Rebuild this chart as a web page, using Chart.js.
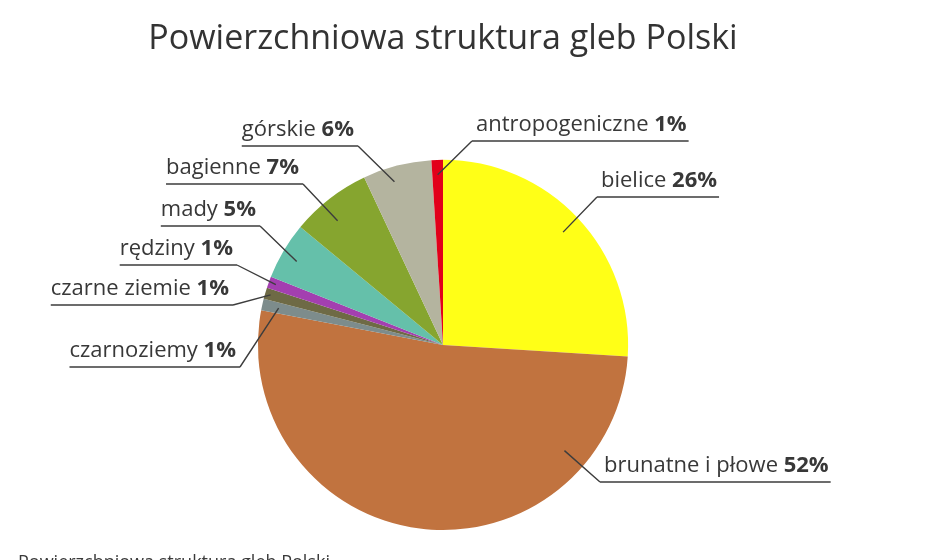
<!DOCTYPE html>
<html>
<head>
<meta charset="utf-8">
<script src="https://cdn.jsdelivr.net/npm/chart.js@4.4.1/dist/chart.umd.min.js"></script>
<style>
  html, body { margin: 0; padding: 0; background: #fff; }
  #wrap { width: 952px; height: 560px; }
</style>
</head>
<body>
<div id="wrap"><canvas id="soilChart" width="952" height="560"></canvas></div>
<script>
// ====== Data ======
const soilNames = ["bielice", "brunatne i płowe", "czarnoziemy", "czarne ziemie", "rędziny", "mady", "bagienne", "górskie", "antropogeniczne"];
const soilShares = [26, 52, 1, 1, 1, 5, 7, 6, 1];
const soilColors = ["#ffff17", "#c1733f", "#7d8c8c", "#6e6a45", "#a33fb0", "#65c0aa", "#86a52f", "#b4b49f", "#e2001a"];

// label placement: side, elbow of the leader (x, underline y), anchor inside slice
const labelLayout = [
  { side: "right", x: 597, y: 197, t: 0.5, r: 0.89 },
  { side: "right", x: 600, y: 482, t: 0.2, r: 0.87 },
  { side: "left",  x: 240, y: 367, t: 0.5, r: 0.91 },
  { side: "left",  x: 233, y: 305, t: 0.5, r: 0.97 },
  { side: "left",  x: 237, y: 265, t: 0.5, r: 0.96 },
  { side: "left",  x: 260, y: 226, t: 0.45, r: 0.91 },
  { side: "left",  x: 303, y: 184, t: 0.4, r: 0.88 },
  { side: "left",  x: 358, y: 146, t: 0.4, r: 0.92 },
  { side: "right", x: 472, y: 141, t: 0.5, r: 0.92 }
];

const labelFont = "Open Sans";
const labelSize = 22;

const leaderLabels = {
  id: "leaderLabels",
  afterDraw(chart) {
    const ctx = chart.ctx;
    const arcs = chart.getDatasetMeta(0).data;
    ctx.save();
    arcs.forEach((arc, i) => {
      const lay = labelLayout[i];
      const p = arc.getProps(["x", "y", "startAngle", "endAngle", "outerRadius"], true);
      const a = p.startAngle + (p.endAngle - p.startAngle) * lay.t;
      const ax = p.x + Math.cos(a) * p.outerRadius * lay.r;
      const ay = p.y + Math.sin(a) * p.outerRadius * lay.r;

      const name = soilNames[i] + " ";
      const pct = soilShares[i] + "%";
      ctx.font = labelSize + "px '" + labelFont + "'";
      const w1 = ctx.measureText(name).width;
      ctx.font = "bold " + labelSize + "px '" + labelFont + "'";
      const w2 = ctx.measureText(pct).width;
      const tw = w1 + w2;

      let tx, ux0, ux1;
      if (lay.side === "left") {
        tx = lay.x - 4 - tw;
        ux0 = tx;
        ux1 = lay.x;
      } else {
        tx = lay.x + 4;
        ux0 = lay.x;
        ux1 = tx + tw + 2;
      }

      // leader line
      ctx.strokeStyle = "#3d3d3d";
      ctx.lineWidth = 1.4;
      ctx.beginPath();
      ctx.moveTo(ax, ay);
      ctx.lineTo(lay.x, lay.y);
      ctx.moveTo(ux0, lay.y);
      ctx.lineTo(ux1, lay.y);
      ctx.stroke();

      // text
      ctx.textBaseline = "alphabetic";
      ctx.textAlign = "left";
      ctx.fillStyle = "#383838";
      const by = lay.y - 10;
      ctx.font = labelSize + "px '" + labelFont + "'";
      ctx.fillText(name, tx, by);
      ctx.font = "bold " + labelSize + "px '" + labelFont + "'";
      ctx.fillText(pct, tx + w1, by);
    });

    // caption at the bottom, partly outside the picture
    ctx.font = "18px '" + labelFont + "'";
    ctx.fillStyle = "#3a3a3a";
    ctx.fillText("Powierzchniowa struktura gleb Polski", 18, 568);
    ctx.restore();
  }
};

new Chart(document.getElementById("soilChart"), {
  type: "pie",
  data: {
    labels: soilNames,
    datasets: [{
      data: soilShares,
      backgroundColor: soilColors,
      borderWidth: 0
    }]
  },
  options: {
    responsive: false,
    animation: false,
    layout: { padding: { top: 0, bottom: 30, left: 100, right: 166 } },
    plugins: {
      legend: { display: false },
      tooltip: { enabled: false },
      title: {
        display: true,
        text: "Powierzchniowa struktura gleb Polski",
        color: "#333",
        font: { family: labelFont, size: 34, weight: "normal" },
        padding: { top: 19, bottom: 100 }
      }
    }
  },
  plugins: [leaderLabels]
});
</script>
</body>
</html>
